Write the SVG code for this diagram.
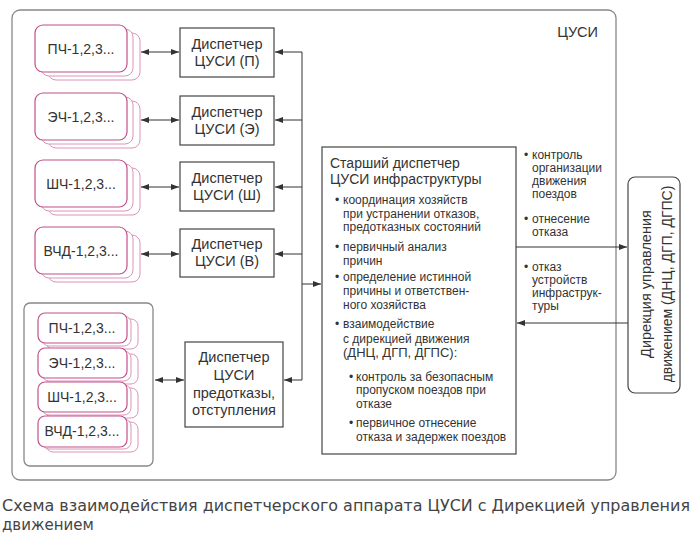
<svg xmlns="http://www.w3.org/2000/svg" width="700" height="548" viewBox="0 0 700 548">
<style>
text{font-family:"Liberation Sans",Arial,sans-serif;fill:#333}
.box{fill:#fff;stroke:#444;stroke-width:1.2}
.pk{fill:#fff;stroke:#c2508a;stroke-width:1.2}
.pkb{fill:#fff;stroke:#dc94b8;stroke-width:1}
.frame{fill:none;stroke:#888;stroke-width:1.3}
.t13{font-size:14px;text-anchor:middle}
.d{font-size:14.5px;text-anchor:middle}
.b{font-size:12px}
.r{font-size:12px}
.ln{fill:none;stroke:#333;stroke-width:1}
.cap{font-family:"DejaVu Sans",sans-serif;font-size:15px;fill:#444}
</style>
<defs>
<marker id="ah" markerUnits="userSpaceOnUse" markerWidth="8" markerHeight="6" refX="8" refY="3" orient="auto-start-reverse">
<path d="M0,0 L8,3 L0,6 z" fill="#333"/>
</marker>
</defs>
<rect width="700" height="548" fill="#fff"/>

<g id="cusi">
<rect class="frame" x="12" y="10" width="604" height="470" rx="8"/>
<text x="598" y="37" style="font-size:14.5px;text-anchor:end">ЦУСИ</text>
</g>

<g id="pch">
<rect class="pkb" x="48" y="33" width="92" height="47" rx="8"/>
<rect class="pkb" x="41" y="29" width="92" height="47" rx="8"/>
<rect class="pk" x="35" y="25" width="92" height="47" rx="8"/>
<text class="t13" x="81" y="54">ПЧ-1,2,3...</text>
</g>
<g id="ech">
<rect class="pkb" x="48" y="101" width="92" height="47" rx="8"/>
<rect class="pkb" x="41" y="97" width="92" height="47" rx="8"/>
<rect class="pk" x="35" y="93" width="92" height="47" rx="8"/>
<text class="t13" x="81" y="122">ЭЧ-1,2,3...</text>
</g>
<g id="shch">
<rect class="pkb" x="48" y="168" width="92" height="47" rx="8"/>
<rect class="pkb" x="41" y="164" width="92" height="47" rx="8"/>
<rect class="pk" x="35" y="160" width="92" height="47" rx="8"/>
<text class="t13" x="81" y="189">ШЧ-1,2,3...</text>
</g>
<g id="vchd">
<rect class="pkb" x="48" y="235" width="92" height="47" rx="8"/>
<rect class="pkb" x="41" y="231" width="92" height="47" rx="8"/>
<rect class="pk" x="35" y="227" width="92" height="47" rx="8"/>
<text class="t13" x="81" y="256">ВЧД-1,2,3...</text>
</g>

<g id="disp-p">
<rect class="box" x="180" y="28" width="94" height="49"/>
<text class="d" x="227" y="49">Диспетчер</text>
<text class="d" x="227" y="66">ЦУСИ (П)</text>
</g>
<g id="disp-e">
<rect class="box" x="180" y="96" width="94" height="49"/>
<text class="d" x="227" y="117">Диспетчер</text>
<text class="d" x="227" y="134">ЦУСИ (Э)</text>
</g>
<g id="disp-sh">
<rect class="box" x="180" y="162" width="94" height="49"/>
<text class="d" x="227" y="183">Диспетчер</text>
<text class="d" x="227" y="200">ЦУСИ (Ш)</text>
</g>
<g id="disp-v">
<rect class="box" x="180" y="229" width="94" height="48"/>
<text class="d" x="227" y="249">Диспетчер</text>
<text class="d" x="227" y="266">ЦУСИ (В)</text>
</g>

<g id="group-pre">
<rect class="frame" x="24" y="303" width="129" height="163" rx="6"/>
<rect class="pkb" x="46" y="319" width="92" height="30" rx="7"/>
<rect class="pkb" x="42" y="316" width="89" height="30" rx="7"/>
<rect class="pk" x="38" y="313" width="89" height="30" rx="7"/>
<text class="t13" x="82" y="333">ПЧ-1,2,3...</text>
<rect class="pkb" x="46" y="354" width="92" height="30" rx="7"/>
<rect class="pkb" x="42" y="351" width="89" height="30" rx="7"/>
<rect class="pk" x="38" y="348" width="89" height="30" rx="7"/>
<text class="t13" x="82" y="368">ЭЧ-1,2,3...</text>
<rect class="pkb" x="46" y="388" width="92" height="30" rx="7"/>
<rect class="pkb" x="42" y="385" width="89" height="30" rx="7"/>
<rect class="pk" x="38" y="382" width="89" height="30" rx="7"/>
<text class="t13" x="82" y="402">ШЧ-1,2,3...</text>
<rect class="pkb" x="46" y="422" width="92" height="30" rx="7"/>
<rect class="pkb" x="42" y="419" width="89" height="30" rx="7"/>
<rect class="pk" x="38" y="416" width="89" height="31" rx="7"/>
<text class="t13" x="82" y="436">ВЧД-1,2,3...</text>
</g>

<g id="disp-pre">
<rect class="box" x="185" y="342" width="98" height="85"/>
<text class="d" x="234" y="362">Диспетчер</text>
<text class="d" x="234" y="380">ЦУСИ</text>
<text class="d" x="234" y="398">предотказы,</text>
<text class="d" x="234" y="415">отступления</text>
</g>

<g id="senior">
<rect class="box" x="322" y="147" width="194" height="307"/>
<text x="330" y="168" style="font-size:14px">Старший диспетчер</text>
<text x="330" y="184" style="font-size:14px">ЦУСИ инфраструктуры</text>
<text x="335" y="204" class="b">•</text><text x="343" y="204" class="b">координация хозяйств</text>
<text x="343" y="218" class="b">при устранении отказов,</text>
<text x="343" y="231" class="b">предотказных состояний</text>
<text x="335" y="251" class="b">•</text><text x="343" y="251" class="b">первичный анализ</text>
<text x="343" y="265" class="b">причин</text>
<text x="335" y="281" class="b">•</text><text x="343" y="281" class="b">определение истинной</text>
<text x="343" y="295" class="b">причины и ответствен-</text>
<text x="343" y="309" class="b">ного хозяйства</text>
<text x="335" y="328" class="b">•</text><text x="343" y="328" class="b">взаимодействие</text>
<text x="343" y="343" class="b">с дирекцией движения</text>
<text x="343" y="357" style="font-size:13px">(ДНЦ, ДГП, ДГПС):</text>
<text x="349" y="381" class="b">•</text><text x="356" y="381" class="b">контроль за безопасным</text>
<text x="356" y="394" class="b">пропуском поездов при</text>
<text x="356" y="408" class="b">отказе</text>
<text x="349" y="427" class="b">•</text><text x="356" y="427" class="b">первичное отнесение</text>
<text x="356" y="441" class="b">отказа и задержек поездов</text>
</g>

<g id="direction">
<rect class="box" x="628" y="177" width="52" height="216" rx="7"/>
<text transform="translate(651,284) rotate(-90)" style="font-size:14.5px;text-anchor:middle">Дирекция управления</text>
<text transform="translate(672,284) rotate(-90)" style="font-size:14px;text-anchor:middle">движением (ДНЦ, ДГП, ДГПС)</text>
</g>

<g id="edge-labels">
<text x="524" y="159" class="r">•</text><text x="532" y="159" class="r">контроль</text>
<text x="532" y="172" class="r">организации</text>
<text x="532" y="185" class="r">движения</text>
<text x="532" y="198" class="r">поездов</text>
<text x="524" y="223" class="r">•</text><text x="532" y="223" class="r">отнесение</text>
<text x="532" y="236" class="r">отказа</text>
<text x="524" y="271" class="r">•</text><text x="532" y="271" class="r">отказ</text>
<text x="532" y="284" class="r">устройств</text>
<text x="532" y="297" class="r">инфраструк-</text>
<text x="532" y="310" class="r">туры</text>
</g>

<g id="connectors">
<line class="ln" x1="141" y1="52" x2="179" y2="52" marker-start="url(#ah)" marker-end="url(#ah)"/>
<line class="ln" x1="141" y1="120" x2="179" y2="120" marker-start="url(#ah)" marker-end="url(#ah)"/>
<line class="ln" x1="141" y1="187" x2="179" y2="187" marker-start="url(#ah)" marker-end="url(#ah)"/>
<line class="ln" x1="141" y1="254" x2="179" y2="254" marker-start="url(#ah)" marker-end="url(#ah)"/>
<line class="ln" x1="155" y1="380" x2="184" y2="380" marker-start="url(#ah)" marker-end="url(#ah)"/>
<polyline class="ln" points="302,52 302,380 284,380" marker-end="url(#ah)"/>
<line class="ln" x1="302" y1="52" x2="275" y2="52" marker-end="url(#ah)"/>
<line class="ln" x1="302" y1="120" x2="275" y2="120" marker-end="url(#ah)"/>
<line class="ln" x1="302" y1="187" x2="275" y2="187" marker-end="url(#ah)"/>
<line class="ln" x1="302" y1="254" x2="275" y2="254" marker-end="url(#ah)"/>
<line class="ln" x1="302" y1="284" x2="321" y2="284" marker-end="url(#ah)"/>
<line class="ln" x1="516" y1="247" x2="627" y2="247" marker-end="url(#ah)"/>
<line class="ln" x1="628" y1="323" x2="517" y2="323" marker-end="url(#ah)"/>
</g>

<g id="caption">
<text class="cap" x="2" y="511" textLength="688" lengthAdjust="spacingAndGlyphs">Схема взаимодействия диспетчерского аппарата ЦУСИ с Дирекцией управления</text>
<text class="cap" x="2" y="530">движением</text>
</g>
</svg>
